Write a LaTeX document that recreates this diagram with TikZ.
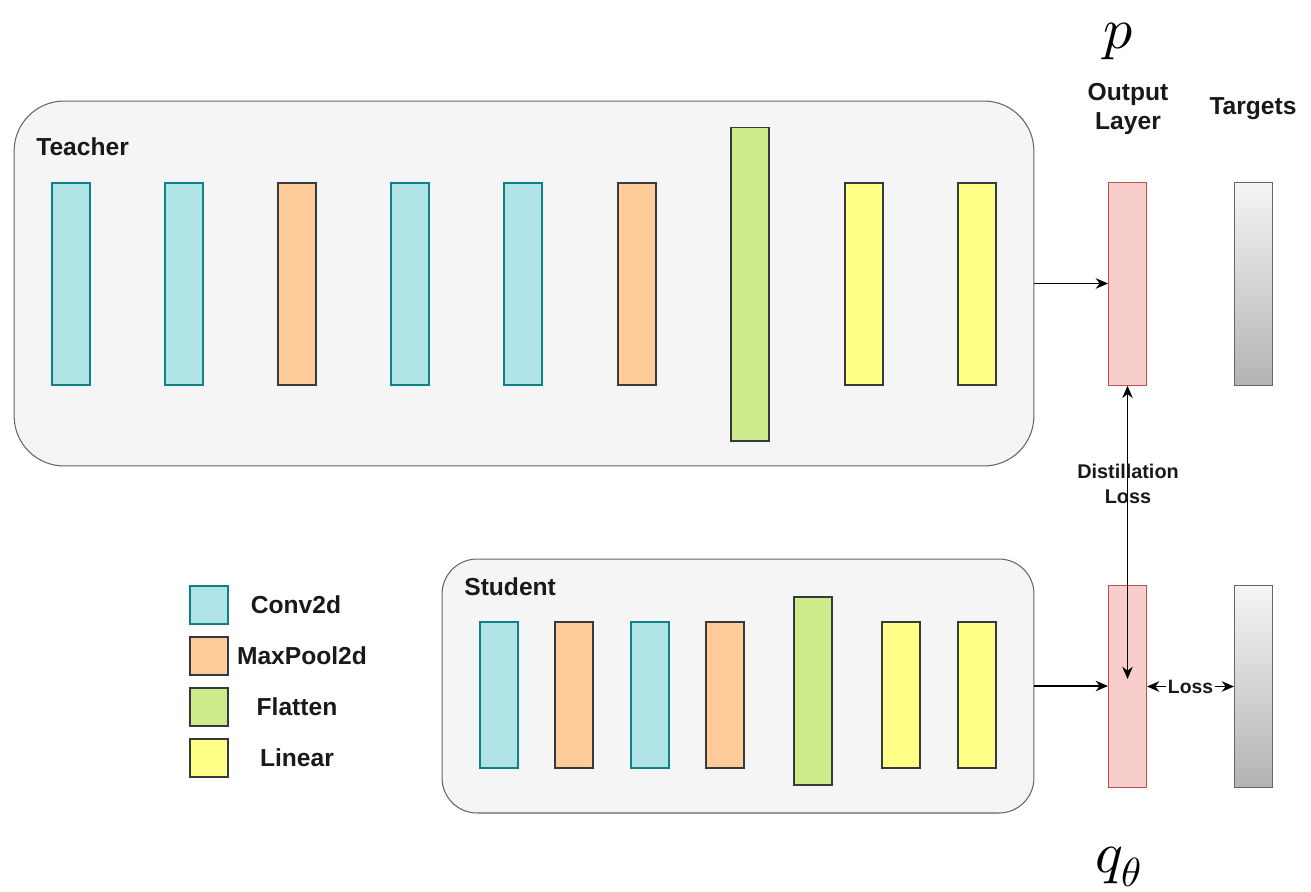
\documentclass[tikz,border=0pt]{standalone}
\usepackage{fontspec}
\usepackage{unicode-math}
\setmainfont{Liberation Sans}
\setmathfont{Latin Modern Math}
\usetikzlibrary{arrows.meta, positioning, calc}

\definecolor{convfill}{HTML}{B0E3E6}
\definecolor{convline}{HTML}{0E8088}
\definecolor{poolfill}{HTML}{FFCC99}
\definecolor{flatfill}{HTML}{CDEB8B}
\definecolor{linfill}{HTML}{FFFF88}
\definecolor{darkline}{HTML}{36393D}
\definecolor{outfill}{HTML}{F8CECC}
\definecolor{outline}{HTML}{B85450}
\definecolor{panelfill}{HTML}{F5F5F5}
\definecolor{panelline}{HTML}{666666}
\definecolor{tgttop}{HTML}{F5F5F5}
\definecolor{tgtbot}{HTML}{B3B3B3}

\begin{document}
\begin{tikzpicture}[x=0.02cm, y=-0.02cm, >={Stealth[length=7pt, width=6pt]},
  layer/.style={draw, line width=0.6pt, minimum width=0.76cm, inner sep=0pt},
  conv/.style={layer, draw=convline, fill=convfill},
  pool/.style={layer, draw=darkline, fill=poolfill},
  flat/.style={layer, draw=darkline, fill=flatfill},
  lin/.style={layer, draw=darkline, fill=linfill},
  outlayer/.style={layer, draw=outline, fill=outfill, minimum height=4.05cm},
  target/.style={layer, draw=panelline, top color=tgttop, bottom color=tgtbot, minimum height=4.05cm},
  panel/.style={draw=panelline, fill=panelfill, line width=0.6pt, inner sep=0pt},
  lbl/.style={font=\bfseries\fontsize{14}{17}\selectfont, text=black!90},
  bigmath/.style={font=\fontsize{33}{36}\selectfont, anchor=base, inner sep=0pt},
  link/.style={line width=0.8pt}]
  \useasboundingbox (0,0) rectangle (1311,892);

  % Teacher network
  \node[panel, rounded corners=1cm, minimum width=20.4cm, minimum height=7.3cm] (teacher) at (524,283.5) {};
  \node[lbl, anchor=west, inner sep=0pt] (teacherlbl) at (36,147) {Teacher};
  \foreach \x/\kind/\h [count=\i] in {71/conv/4.04, 184/conv/4.04, 297/pool/4.04, 410/conv/4.04,
      523/conv/4.04, 637/pool/4.04, 750/flat/6.28, 864/lin/4.04, 977/lin/4.04}
    \node[\kind, minimum height=\h cm] (t\i) at (\x,284) {};

  % Student network
  \node[panel, rounded corners=0.7cm, minimum width=11.84cm, minimum height=5.08cm] (student) at (738,686) {};
  \node[lbl, anchor=west, inner sep=0pt] (studentlbl) at (464,587) {Student};
  \foreach \x/\y/\kind/\h [count=\i] in {499/695/conv/2.92, 574/695/pool/2.92, 650/695/conv/2.92,
      725/695/pool/2.92, 813/691/flat/3.76, 901/695/lin/2.92, 977/695/lin/2.92}
    \node[\kind, minimum height=\h cm] (s\i) at (\x,\y) {};

  % Output layers and targets
  \node[outlayer] (out1) at (1127.5,284) {};
  \node[target] (tgt1) at (1253.5,284) {};
  \node[outlayer] (out2) at (1127.5,686.5) {};
  \node[target] (tgt2) at (1253.5,686.5) {};
  \node[lbl, align=center] (outlbl) at (1128,109) {Output\\Layer};
  \node[lbl] (tgtlbl) at (1253,109) {Targets};
  \node[bigmath] (pnode) at (1118,49) {$p$};
  \node[bigmath] (qnode) at (1119,872) {$q_{\theta}$};

  % Legend
  \foreach \y/\kind/\name/\lx [count=\i] in {605/conv/Conv2d/296, 656/pool/MaxPool2d/302,
      707/flat/Flatten/297, 758/lin/Linear/297} {
    \node[\kind, minimum height=0.76cm] (key\i) at (209,\y) {};
    \node[lbl] (keylbl\i) at (\lx,\y) {\name};
  }

  % Connectors
  \draw[->, link] (teacher.east) -- (teacher.east -| out1.west);
  \draw[->, link] (student.east) -- (student.east -| out2.west);
  \coordinate (dlend) at (1127.5,679);
  \draw[<->, link] (out1.south) -- (dlend);
  \node[font=\bfseries\fontsize{11.3}{14}\selectfont, align=center, text=black!90] (dllbl) at (1128,484) {Distillation\\Loss};
  \draw[<->, link] (out2.east) -- (tgt2.west)
    node[midway, fill=white, inner sep=1pt, font=\bfseries\fontsize{11}{14}\selectfont, text=black!90] (losslbl) {Loss};
\end{tikzpicture}
\end{document}
